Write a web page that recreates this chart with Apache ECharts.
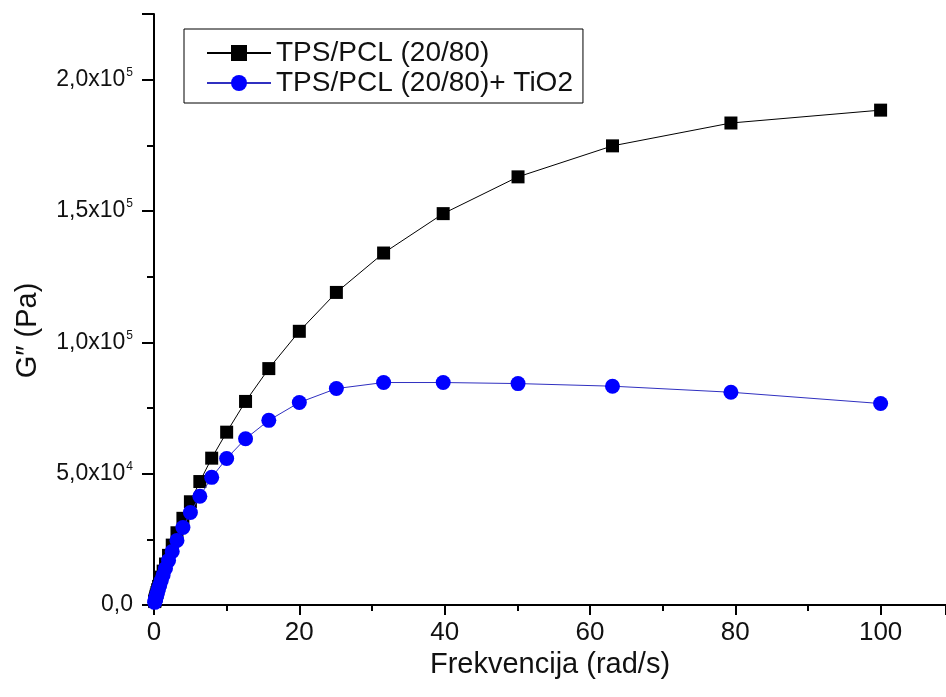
<!DOCTYPE html>
<html>
<head>
<meta charset="utf-8">
<script src="https://cdn.jsdelivr.net/npm/echarts@6/dist/echarts.min.js"></script>
<style>
html,body{margin:0;padding:0;background:#fff;}
#chart{width:946px;height:697px;}
</style>
</head>
<body>
<div id="chart"></div>
<script>
// Frequencies (rad/s)
const freq = [0.1, 0.126, 0.158, 0.2, 0.251, 0.316, 0.398, 0.501, 0.631, 0.794,
  1.0, 1.26, 1.58, 2.0, 2.51, 3.16, 3.98, 5.01, 6.31, 7.94,
  10, 12.6, 15.8, 20, 25.1, 31.6, 39.8, 50.1, 63.1, 79.4, 100];
// G'' (Pa) TPS/PCL (20/80)
const gTPS = [1300, 1600, 2000, 2500, 3100, 3800, 4700, 5800, 7100, 8700,
  10600, 12900, 15600, 18900, 22800, 27500, 33000, 39300, 47000, 55900,
  65800, 77500, 90000, 104200, 119000, 134000, 149000, 163000, 174800, 183500, 188400];
// G'' (Pa) TPS/PCL (20/80)+ TiO2
const gTiO2 = [1000, 1300, 1700, 2100, 2600, 3200, 4000, 5000, 6200, 7600,
  9300, 11400, 13900, 16900, 20400, 24600, 29500, 35200, 41400, 48600,
  55800, 63300, 70300, 77100, 82400, 84700, 84700, 84300, 83300, 81000, 76700];
const seriesNames = ['TPS/PCL (20/80)', 'TPS/PCL (20/80)+ TiO2'];
const xTicks = [0, 20, 40, 60, 80, 100];
const yTickLabels = {0: ['0,0', ''], 50000: ['5,0x10', '4'], 100000: ['1,0x10', '5'], 150000: ['1,5x10', '5'], 200000: ['2,0x10', '5']};

const font = 'Liberation Sans, Arial, sans-serif';
const chart = echarts.init(document.getElementById('chart'));
chart.setOption({
  animation: false,
  backgroundColor: '#fff',
  textStyle: {fontFamily: font},
  grid: {left: 154, right: 0, top: 14, bottom: 92},
  legend: {
    orient: 'vertical',
    left: 184, top: 29,
    padding: [9, 10, 5, 22],
    borderColor: '#000', borderWidth: 1,
    itemGap: 0,
    itemWidth: 64, itemHeight: 20,
    textStyle: {fontSize: 28, color: '#111', fontFamily: font, lineHeight: 30},
    data: seriesNames
  },
  xAxis: {
    type: 'value', min: 0, max: 109, interval: 20,
    name: 'Frekvencija (rad/s)', nameLocation: 'middle', nameGap: 38,
    nameTextStyle: {fontSize: 29, color: '#111', fontFamily: font},
    axisLine: {lineStyle: {color: '#000', width: 2}},
    axisTick: {show: true, length: 10, lineStyle: {color: '#000', width: 2}},
    minorTick: {show: true, splitNumber: 2, length: 6, lineStyle: {color: '#000', width: 2}},
    splitLine: {show: false},
    axisLabel: {fontSize: 26, color: '#111', margin: 15, showMaxLabel: false,
      formatter: v => xTicks.includes(v) ? String(v) : ''}
  },
  yAxis: {
    type: 'value', min: 0, max: 225000, interval: 50000,
    name: 'G\u2033 (Pa)', nameLocation: 'middle', nameGap: 112,
    nameTextStyle: {fontSize: 29, color: '#111', fontFamily: font, padding: [0, 42, 0, 0]},
    axisLine: {show: true, lineStyle: {color: '#000', width: 2}},
    axisTick: {show: true, length: 12, lineStyle: {color: '#000', width: 2}},
    minorTick: {show: true, splitNumber: 2, length: 7, lineStyle: {color: '#000', width: 2}},
    splitLine: {show: false},
    axisLabel: {
      margin: 21, color: '#111', showMaxLabel: false,
      formatter: v => {
        const t = yTickLabels[v];
        if (!t) return '';
        return t[1] ? '{b|' + t[0] + '}{s|' + t[1] + '}' : '{b|' + t[0] + '}';
      },
      rich: {
        b: {fontSize: 23, color: '#111', fontFamily: font},
        s: {fontSize: 12, color: '#111', fontFamily: font, padding: [0, 0, 14, 1]}
      }
    }
  },
  series: [
    {
      name: seriesNames[0], type: 'line',
      data: freq.map((f, i) => [f, gTPS[i]]),
      symbol: 'rect', symbolSize: 13,
      itemStyle: {color: '#000'},
      lineStyle: {color: '#000', width: 1},
      z: 2
    },
    {
      name: seriesNames[1], type: 'line',
      data: freq.map((f, i) => [f, gTiO2[i]]),
      symbol: 'circle', symbolSize: 15,
      itemStyle: {color: '#0000ff'},
      lineStyle: {color: '#3030c0', width: 1},
      z: 3
    }
  ]
});
</script>
</body>
</html>
